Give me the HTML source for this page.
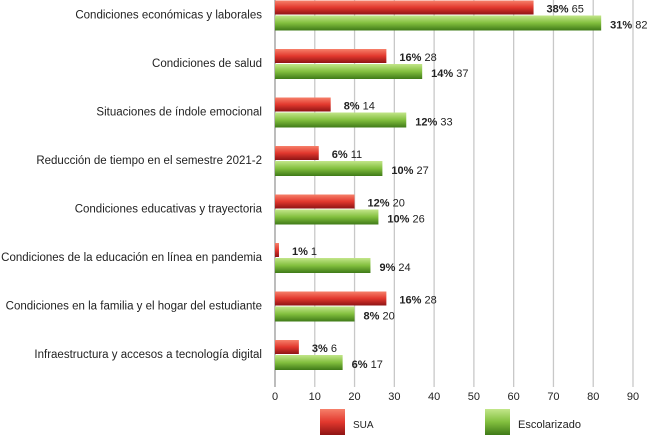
<!DOCTYPE html>
<html><head><meta charset="utf-8"><style>
body{margin:0;background:#fff;width:650px;height:435px;overflow:hidden;font-family:"Liberation Sans",sans-serif}
</style></head><body>
<svg id="chart" width="650" height="435" xmlns="http://www.w3.org/2000/svg">
<defs>
<linearGradient id="gr" x1="0" y1="0" x2="0" y2="1"><stop offset="0" stop-color="#f6806a"/><stop offset="0.5" stop-color="#e2382e"/><stop offset="1" stop-color="#8e1414"/></linearGradient>
<linearGradient id="gg" x1="0" y1="0" x2="0" y2="1"><stop offset="0" stop-color="#c3e68a"/><stop offset="0.5" stop-color="#82bf3e"/><stop offset="1" stop-color="#3f7a18"/></linearGradient>
</defs>
<g id="grid"></g><g id="bars"></g><g id="labels"></g>
<rect x="320" y="409" width="25" height="26" fill="url(#gr)"/>
<text x="353" y="428" font-size="10" fill="#222">SUA</text>
<rect x="485" y="409" width="25" height="26" fill="url(#gg)"/>
<text x="518" y="428" font-size="11" fill="#222">Escolarizado</text>
</svg>
<script>
const categories=["Condiciones económicas y laborales","Condiciones de salud","Situaciones de índole emocional","Reducción de tiempo en el semestre 2021-2","Condiciones educativas y trayectoria","Condiciones de la educación en línea en pandemia","Condiciones en la familia y el hogar del estudiante","Infraestructura y accesos a tecnología digital"];
const suaValues=[65,28,14,11,20,1,28,6];
const suaPct=["38%","16%","8%","6%","12%","1%","16%","3%"];
const escValues=[82,37,33,27,26,24,20,17];
const escPct=["31%","14%","12%","10%","10%","9%","8%","6%"];
const ticks=[0,10,20,30,40,50,60,70,80,90];
const NS="http://www.w3.org/2000/svg";
const x0=275,x1=633,max=90,top0=-0.5,band=48.5,bottom=383;
const xs=v=>x0+(x1-x0)*v/max;
const ys=i=>top0+i*band;
function mk(t,a,p){const e=document.createElementNS(NS,t);for(const k in a)e.setAttribute(k,a[k]);p.appendChild(e);return e;}
const grid=document.getElementById('grid'),bars=document.getElementById('bars'),labels=document.getElementById('labels');
ticks.forEach(t=>{
 const l=mk('line',{x1:xs(t),x2:xs(t),y1:0,y2:bottom+4,stroke:t===0?'#999':'#c8c8c8','stroke-width':1.3},grid);
 
 
 const tx=mk('text',{x:xs(t),y:400,'font-size':11,'text-anchor':'middle',fill:'#222'},grid);
 tx.textContent=t;
 
 
});
categories.forEach((c,i)=>{
 const y=ys(i);
 const cl=mk('text',{x:262,y:y+19,'font-size':11.5,'text-anchor':'end',fill:'#222'},labels);
 cl.textContent=c;
 
 
 const r=mk('rect',{x:x0,y:y+1,width:xs(suaValues[i])-x0,height:14,fill:'url(#gr)'},bars);
 
 
 const g=mk('rect',{x:x0,y:y+16,width:xs(escValues[i])-x0,height:15,fill:'url(#gg)'},bars);
 
 
 const t1=mk('text',{x:xs(suaValues[i])+13,y:y+13,'font-size':11,fill:'#222'},labels);
 t1.innerHTML='<tspan font-weight="bold">'+suaPct[i]+'</tspan> '+suaValues[i];
 
 
 const t2=mk('text',{x:xs(escValues[i])+9,y:y+29,'font-size':11,fill:'#222'},labels);
 t2.innerHTML='<tspan font-weight="bold">'+escPct[i]+'</tspan> '+escValues[i];
 
 
});
</script>
</body></html>
